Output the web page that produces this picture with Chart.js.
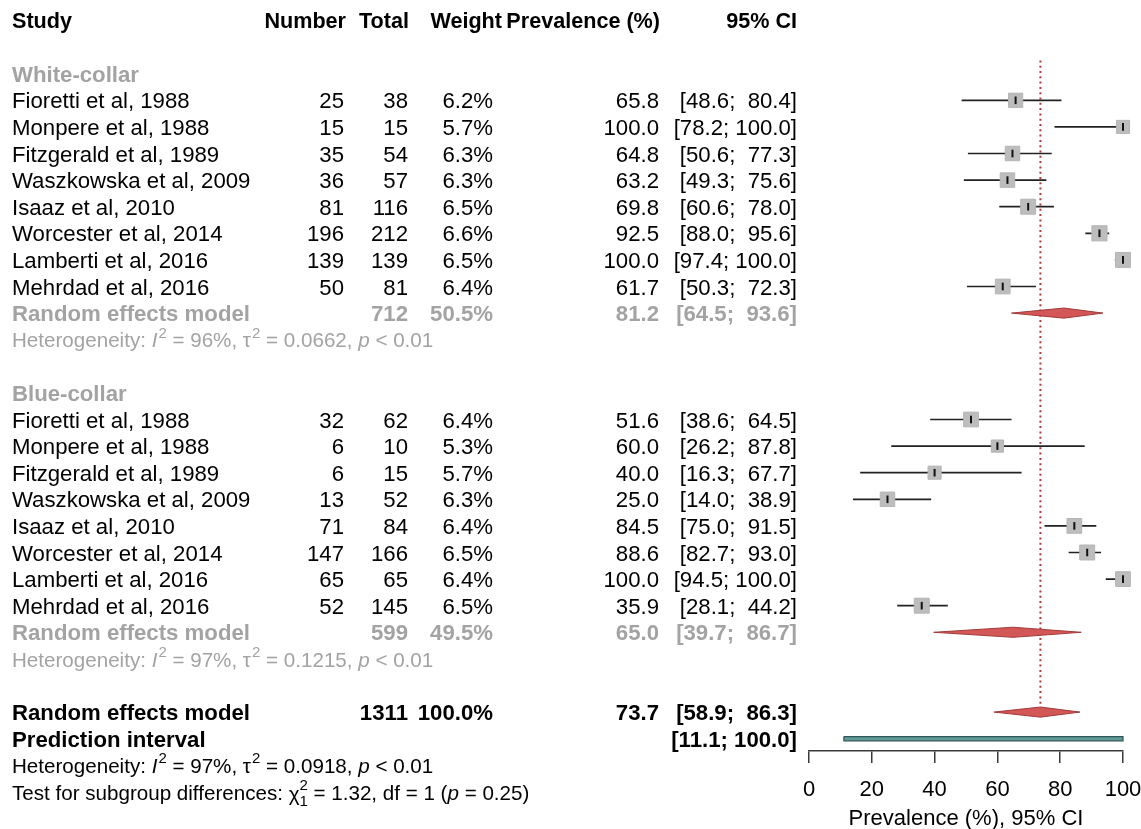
<!DOCTYPE html>
<html>
<head>
<meta charset="utf-8">
<title>Prevalence forest plot</title>
<script src="https://cdn.jsdelivr.net/npm/chart.js@4.4.1/dist/chart.umd.min.js"></script>
<style>
  html, body { margin: 0; padding: 0; background: #ffffff; }
  canvas { display: block; }
</style>
</head>
<body>
<canvas id="forest" width="1141" height="829"></canvas>
<script>
// ---- study data ----
const studies = [
  "Fioretti et al, 1988", "Monpere et al, 1988", "Fitzgerald et al, 1989",
  "Waszkowska et al, 2009", "Isaaz et al, 2010", "Worcester et al, 2014",
  "Lamberti et al, 2016", "Mehrdad et al, 2016"
];
const groupNames = ["White-collar", "Blue-collar"];

const whiteEvents = [25, 15, 35, 36, 81, 196, 139, 50];
const whiteTotal  = [38, 15, 54, 57, 116, 212, 139, 81];
const whiteWeight = [6.2, 5.7, 6.3, 6.3, 6.5, 6.6, 6.5, 6.4];
const whitePrev   = [65.8, 100.0, 64.8, 63.2, 69.8, 92.5, 100.0, 61.7];
const whiteLower  = [48.6, 78.2, 50.6, 49.3, 60.6, 88.0, 97.4, 50.3];
const whiteUpper  = [80.4, 100.0, 77.3, 75.6, 78.0, 95.6, 100.0, 72.3];

const blueEvents = [32, 6, 6, 13, 71, 147, 65, 52];
const blueTotal  = [62, 10, 15, 52, 84, 166, 65, 145];
const blueWeight = [6.4, 5.3, 5.7, 6.3, 6.4, 6.5, 6.4, 6.5];
const bluePrev   = [51.6, 60.0, 40.0, 25.0, 84.5, 88.6, 100.0, 35.9];
const blueLower  = [38.6, 26.2, 16.3, 14.0, 75.0, 82.7, 94.5, 28.1];
const blueUpper  = [64.5, 87.8, 67.7, 38.9, 91.5, 93.0, 100.0, 44.2];

// pooled estimates: [white-collar, blue-collar, overall]
const pooledTotal  = [712, 599, 1311];
const pooledWeight = [50.5, 49.5, 100.0];
const pooledPrev   = [81.2, 65.0, 73.7];
const pooledLower  = [64.5, 39.7, 58.9];
const pooledUpper  = [93.6, 86.7, 86.3];
const predictionInterval = [11.1, 100.0];

// heterogeneity: [white-collar, blue-collar, overall]
const hetI2   = ["96%", "97%", "97%"];
const hetTau2 = ["0.0662", "0.1215", "0.0918"];
const hetP    = ["< 0.01", "< 0.01", "< 0.01"];
const subgroupTest = { chi2: "1.32", df: "1", p: "0.25" };

const xTicks = [0, 20, 40, 60, 80, 100];

// ---- layout of rows and columns ----
const FF = '"Liberation Sans", Arial, Helvetica, sans-serif';
const FS = 22.2;      // table text
const FS_HEAD = 21.6; // column headers
const FS_STAT = 20.6; // heterogeneity / test lines
const TEXT_DY = 2;    // optical centring of text on its row
const GREY = "#a3a3a3";
const ROW = {
  header: 0, whiteLabel: 2, whiteFirst: 3, whiteRE: 11, whiteHet: 12,
  blueLabel: 14, blueFirst: 15, blueRE: 23, blueHet: 24,
  overall: 26, predict: 27, overallHet: 28, test: 29
};
const COL = { study: 12, number: 344, total: 408, weight: 493, prev: 659, ci: 797 };
const HEAD = { number: 346, total: 409, weight: 502, prev: 660, ci: 797 };
const DIAMOND_HALF = 0.19;   // in row units
const PI_HALF = 0.08;

const groups = [
  { events: whiteEvents, total: whiteTotal, weight: whiteWeight, prev: whitePrev, lower: whiteLower, upper: whiteUpper,
    label: ROW.whiteLabel, first: ROW.whiteFirst, re: ROW.whiteRE, het: ROW.whiteHet },
  { events: blueEvents, total: blueTotal, weight: blueWeight, prev: bluePrev, lower: blueLower, upper: blueUpper,
    label: ROW.blueLabel, first: ROW.blueFirst, re: ROW.blueRE, het: ROW.blueHet }
];

const fmt1 = v => v.toFixed(1);
const fmtCI = (lo, hi) => "[" + fmt1(lo) + "; " + fmt1(hi).padStart(5, " ") + "]";

// ---- datasets ----
const ciData = [], squareData = [], squareSize = [], tickData = [];
groups.forEach(g => {
  g.prev.forEach((p, i) => {
    const r = g.first + i;
    ciData.push({ x: g.lower[i], y: r }, { x: g.upper[i], y: r }, { x: g.upper[i], y: null });
    squareData.push({ x: p, y: r });
    squareSize.push(g.weight[i]);
    tickData.push({ x: p, y: r });
  });
});

function diamond(est, lo, hi, r) {
  return [
    { x: lo, y: r }, { x: est, y: r - DIAMOND_HALF }, { x: hi, y: r },
    { x: est, y: r + DIAMOND_HALF }, { x: lo, y: r }
  ];
}
const diamondRows = [ROW.whiteRE, ROW.blueRE, ROW.overall];
const diamondSets = pooledPrev.map((est, k) => ({
  type: "line",
  data: diamond(est, pooledLower[k], pooledUpper[k], diamondRows[k]),
  borderColor: "#a33a3a",
  borderWidth: 1,
  backgroundColor: "#d45757",
  fill: "shape",
  pointRadius: 0,
  clip: false,
  order: 1
}));

const [piLo, piHi] = predictionInterval;
const piRow = ROW.predict;
const predictionSet = {
  type: "line",
  data: [
    { x: piLo, y: piRow - PI_HALF }, { x: piHi, y: piRow - PI_HALF },
    { x: piHi, y: piRow + PI_HALF }, { x: piLo, y: piRow + PI_HALF }, { x: piLo, y: piRow - PI_HALF }
  ],
  borderColor: "#2f5654",
  borderWidth: 1.2,
  backgroundColor: "#5e9c98",
  fill: "shape",
  pointRadius: 0,
  clip: false,
  order: 1
};

const referenceSet = {
  type: "line",
  data: [{ x: pooledPrev[2], y: 1.5 }, { x: pooledPrev[2], y: ROW.overall - DIAMOND_HALF }],
  borderColor: "#b03a3a",
  borderWidth: 2,
  borderDash: [2, 3.3],
  pointRadius: 0,
  fill: false,
  clip: false,
  order: 6
};

const ciSet = {
  type: "line",
  data: ciData,
  borderColor: "#222222",
  borderWidth: 1.7,
  pointRadius: 0,
  spanGaps: false,
  fill: false,
  clip: false,
  order: 5
};

const squareSet = {
  type: "scatter",
  data: squareData,
  pointStyle: "rect",
  pointRadius: ctx => (squareSize[ctx.dataIndex] * 2.3) / Math.SQRT2,
  pointBackgroundColor: "#bdbdbd",
  pointBorderColor: "#b5b5b5",
  pointBorderWidth: 1,
  clip: false,
  order: 4
};

const tickSet = {
  type: "scatter",
  data: tickData,
  pointStyle: "line",
  pointRotation: 90,
  pointRadius: 3.8,
  pointBorderColor: "#111111",
  pointBorderWidth: 2,
  clip: false,
  order: 3
};

// ---- table text and statistics ----
function text(ctx, s, x, y, align, bold, color, size) {
  ctx.font = (bold ? "bold " : "") + (size || FS) + "px " + FF;
  ctx.textAlign = align;
  ctx.textBaseline = "middle";
  ctx.fillStyle = color;
  ctx.fillText(s, x, y);
}

// draws a run of text pieces: n = normal, i = italic, sup = superscript, chi = chi with ^2 and _1
function richText(ctx, parts, x, y, color) {
  const size = FS_STAT, small = Math.round(FS_STAT * 0.72);
  ctx.textAlign = "left";
  ctx.textBaseline = "middle";
  ctx.fillStyle = color;
  let cx = x;
  parts.forEach(([s, kind]) => {
    if (kind === "sup") {
      ctx.font = small + "px " + FF;
      ctx.fillText(s, cx + 1, y - 8);
      cx += ctx.measureText(s).width + 1;
    } else if (kind === "chi") {
      ctx.font = size + "px " + FF;
      ctx.fillText("\u03c7", cx, y + 1);
      cx += ctx.measureText("\u03c7").width;
      ctx.font = small + "px " + FF;
      ctx.fillText(s[0], cx, y - 8);
      ctx.fillText(s[1], cx, y + 8);
      cx += Math.max(ctx.measureText(s[0]).width, ctx.measureText(s[1]).width);
    } else {
      ctx.font = (kind === "i" ? "italic " : "") + size + "px " + FF;
      ctx.fillText(s, cx, y);
      cx += ctx.measureText(s).width;
    }
  });
}

function hetParts(k) {
  return [
    ["Heterogeneity: ", "n"], ["I", "i"], ["2", "sup"], [" = " + hetI2[k] + ", ", "n"],
    ["\u03c4", "n"], ["2", "sup"], [" = " + hetTau2[k] + ", ", "n"], ["p", "i"], [" " + hetP[k], "n"]
  ];
}

const tablePlugin = {
  id: "forestTable",
  afterDraw(chart) {
    const ctx = chart.ctx;
    const ys = chart.scales.y;
    const Y = r => ys.getPixelForValue(r) + TEXT_DY;
    ctx.save();

    // column headers
    const hy = Y(ROW.header);
    text(ctx, "Study", COL.study, hy, "left", true, "#000", FS_HEAD);
    text(ctx, "Number", HEAD.number, hy, "right", true, "#000", FS_HEAD);
    text(ctx, "Total", HEAD.total, hy, "right", true, "#000", FS_HEAD);
    text(ctx, "Weight", HEAD.weight, hy, "right", true, "#000", FS_HEAD);
    text(ctx, "Prevalence (%)", HEAD.prev, hy, "right", true, "#000", FS_HEAD);
    text(ctx, "95% CI", HEAD.ci, hy, "right", true, "#000", FS_HEAD);

    groups.forEach((g, k) => {
      text(ctx, groupNames[k], COL.study, Y(g.label), "left", true, GREY);
      studies.forEach((name, i) => {
        const y = Y(g.first + i);
        text(ctx, name, COL.study, y, "left", false, "#000");
        text(ctx, String(g.events[i]), COL.number, y, "right", false, "#000");
        text(ctx, String(g.total[i]), COL.total, y, "right", false, "#000");
        text(ctx, fmt1(g.weight[i]) + "%", COL.weight, y, "right", false, "#000");
        text(ctx, fmt1(g.prev[i]), COL.prev, y, "right", false, "#000");
        text(ctx, fmtCI(g.lower[i], g.upper[i]), COL.ci, y, "right", false, "#000");
      });
      const ry = Y(g.re);
      text(ctx, "Random effects model", COL.study, ry, "left", true, GREY);
      text(ctx, String(pooledTotal[k]), COL.total, ry, "right", true, GREY);
      text(ctx, fmt1(pooledWeight[k]) + "%", COL.weight, ry, "right", true, GREY);
      text(ctx, fmt1(pooledPrev[k]), COL.prev, ry, "right", true, GREY);
      text(ctx, fmtCI(pooledLower[k], pooledUpper[k]), COL.ci, ry, "right", true, GREY);
      richText(ctx, hetParts(k), COL.study, Y(g.het), GREY);
    });

    const oy = Y(ROW.overall);
    text(ctx, "Random effects model", COL.study, oy, "left", true, "#000");
    text(ctx, String(pooledTotal[2]), COL.total, oy, "right", true, "#000");
    text(ctx, fmt1(pooledWeight[2]) + "%", COL.weight, oy, "right", true, "#000");
    text(ctx, fmt1(pooledPrev[2]), COL.prev, oy, "right", true, "#000");
    text(ctx, fmtCI(pooledLower[2], pooledUpper[2]), COL.ci, oy, "right", true, "#000");

    const py = Y(ROW.predict);
    text(ctx, "Prediction interval", COL.study, py, "left", true, "#000");
    text(ctx, fmtCI(piLo, piHi), COL.ci, py, "right", true, "#000");

    richText(ctx, hetParts(2), COL.study, Y(ROW.overallHet), "#000");
    richText(ctx, [
      ["Test for subgroup differences: ", "n"], ["2" + subgroupTest.df, "chi"],
      [" = " + subgroupTest.chi2 + ", df = " + subgroupTest.df + " (", "n"], ["p", "i"],
      [" = " + subgroupTest.p + ")", "n"]
    ], COL.study, Y(ROW.test), "#000");

    ctx.restore();
  }
};

// ---- chart ----
new Chart(document.getElementById("forest"), {
  type: "scatter",
  data: { datasets: [referenceSet, ciSet, squareSet, tickSet, ...diamondSets, predictionSet] },
  options: {
    responsive: false,
    animation: false,
    devicePixelRatio: 1,
    events: [],
    layout: { autoPadding: false, padding: { left: 809, right: 18, top: 0, bottom: 0 } },
    plugins: { legend: { display: false }, tooltip: { enabled: false } },
    scales: {
      x: {
        type: "linear",
        position: "bottom",
        min: 0,
        max: 100,
        afterBuildTicks: axis => { axis.ticks = xTicks.map(v => ({ value: v })); },
        border: { display: true, color: "#3a3a3a", width: 1.5 },
        grid: { display: true, drawOnChartArea: false, drawTicks: true, tickLength: 12, color: "#3a3a3a", lineWidth: 1.5 },
        ticks: { font: { size: 22, family: FF }, color: "#000", padding: 14, maxRotation: 0, autoSkip: false },
        title: { display: true, text: "Prevalence (%), 95% CI", font: { size: 22, family: FF, lineHeight: 0.9 }, color: "#000", padding: { top: 0, bottom: 0 } },
        afterFit: axis => {
          axis.height = 78;
          // the end labels may run into the right margin
          axis.paddingLeft = 0;
          axis.paddingRight = 0;
        }
      },
      y: {
        type: "linear",
        display: false,
        reverse: true,
        min: -0.771,
        max: 27.463
      }
    }
  },
  plugins: [tablePlugin]
});
</script>
</body>
</html>
